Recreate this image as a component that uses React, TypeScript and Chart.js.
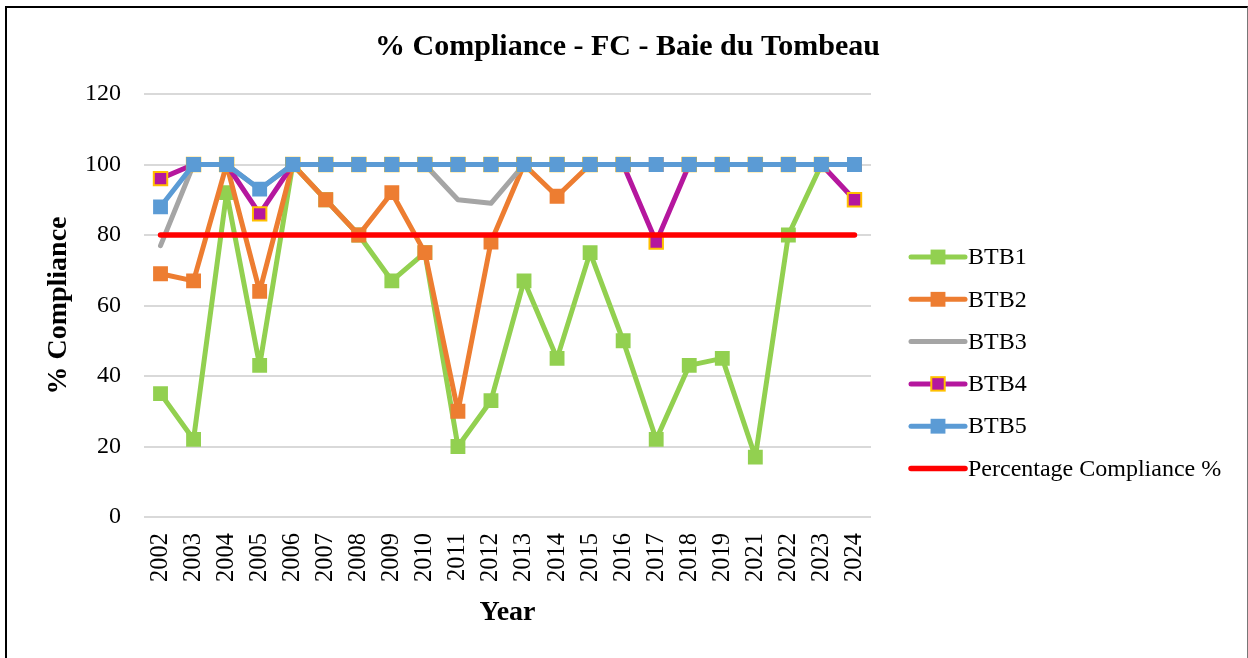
import React, { useEffect, useRef } from "react";
import { Chart, registerables } from "chart.js";

Chart.register(...registerables);

const years = [
  "2002", "2003", "2004", "2005", "2006", "2007", "2008", "2009", "2010", "2011", "2012",
  "2013", "2014", "2015", "2016", "2017", "2018", "2019", "2021", "2022", "2023", "2024",
];

const btb1 = [35, 22, 92, 43, 100, 90, 80, 67, 75, 20, 33, 67, 45, 75, 50, 22, 43, 45, 17, 80, 100, 100];
const btb2 = [69, 67, 100, 64, 100, 90, 80, 92, 75, 30, 78, 100, 91, 100, 100, 100, 100, 100, 100, 100, 100, 100];
const btb3 = [77, 100, 100, 93, 100, 100, 100, 100, 100, 90, 89, 100, 100, 100, 100, 100, 100, 100, 100, 100, 100, 100];
const btb4 = [96, 100, 100, 86, 100, 100, 100, 100, 100, 100, 100, 100, 100, 100, 100, 78, 100, 100, 100, 100, 100, 90];
const btb5 = [88, 100, 100, 93, 100, 100, 100, 100, 100, 100, 100, 100, 100, 100, 100, 100, 100, 100, 100, 100, 100, 100];
const target = [80, 80, 80, 80, 80, 80, 80, 80, 80, 80, 80, 80, 80, 80, 80, 80, 80, 80, 80, 80, 80, 80];

const seriesNames = ["BTB1", "BTB2", "BTB3", "BTB4", "BTB5", "Percentage Compliance %"];
const titleText = "% Compliance - FC - Baie du Tombeau";
const yTitle = "% Compliance";
const xTitle = "Year";

const FONT = "'Liberation Serif', 'Times New Roman', serif";

const legendPlugin = {
  id: "lineLegend",
  afterDraw(chart: any) {
    const ctx = chart.ctx;
    const ds = chart.data.datasets;
    const x0 = 911;
    const x1 = 965;
    const mx = 938;
    const y0 = 257;
    const step = 42.3;
    ctx.save();
    ds.forEach((d: any, i: number) => {
      const y = y0 + i * step;
      ctx.beginPath();
      ctx.lineCap = "round";
      ctx.lineWidth = d.borderWidth;
      ctx.strokeStyle = d.borderColor;
      ctx.moveTo(x0, y);
      ctx.lineTo(x1, y);
      ctx.stroke();
      if (d.pointRadius > 0) {
        const s = d.pointRadius * Math.SQRT1_2;
        ctx.fillStyle = d.pointBackgroundColor;
        ctx.fillRect(mx - s, y - s, 2 * s, 2 * s);
        if (d.pointBorderWidth > 0) {
          ctx.lineWidth = d.pointBorderWidth;
          ctx.strokeStyle = d.pointBorderColor;
          ctx.strokeRect(mx - s, y - s, 2 * s, 2 * s);
        }
      }
      ctx.fillStyle = "#000";
      ctx.font = `24px ${FONT}`;
      ctx.textAlign = "left";
      ctx.textBaseline = "middle";
      ctx.fillText(d.label, 968, y + 1);
    });
    ctx.restore();
  },
};

function App() {
  const ref = useRef<HTMLCanvasElement | null>(null);

  useEffect(() => {
    if (!ref.current) return;
    const mk = (label: string, data: number[], color: string, order: number, extra: any = {}) => ({
      label,
      data,
      borderColor: color,
      backgroundColor: color,
      borderWidth: 5,
      borderJoinStyle: "round",
      borderCapStyle: "round",
      pointStyle: "rect",
      pointRadius: 10.5,
      pointBackgroundColor: color,
      pointBorderColor: color,
      pointBorderWidth: 0,
      tension: 0,
      order,
      ...extra,
    });
    const chart = new Chart(ref.current, {
      type: "line",
      data: {
        labels: years,
        datasets: [
          mk(seriesNames[0], btb1, "#92D050", 5),
          mk(seriesNames[1], btb2, "#ED7D31", 4),
          mk(seriesNames[2], btb3, "#A5A5A5", 3, { pointRadius: 0 }),
          mk(seriesNames[3], btb4, "#B5179E", 2, {
            pointRadius: 9.5,
            pointBorderWidth: 2,
            pointBorderColor: "#FFC000",
          }),
          mk(seriesNames[4], btb5, "#5B9BD5", 1),
          mk(seriesNames[5], target, "#FF0000", 0, { pointRadius: 0, borderWidth: 5.5 }),
        ] as any,
      },
      options: {
        responsive: false,
        animation: false,
        layout: { padding: { left: 7, right: 0, top: 0, bottom: 0 } },
        plugins: {
          legend: { display: false },
          tooltip: { enabled: false },
          title: {
            display: true,
            text: titleText,
            color: "#000",
            font: { family: FONT, size: 30, weight: "bold", lineHeight: 1.2 },
            padding: { top: 29, bottom: 29 },
          },
        },
        scales: {
          x: {
            type: "category",
            offset: true,
            grid: { display: false, drawTicks: false },
            border: { display: false },
            ticks: {
              color: "#000",
              font: { family: FONT, size: 24.5 },
              minRotation: 90,
              maxRotation: 90,
              autoSkip: false,
              padding: 16,
            },
            title: {
              display: true,
              text: xTitle,
              color: "#000",
              font: { family: FONT, size: 28, weight: "bold", lineHeight: 1.2 },
              padding: { top: 0, bottom: 28.5 },
            },
            afterFit: (s: any) => {
              s.height = 141;
            },
          },
          y: {
            type: "linear",
            min: 0,
            max: 120,
            ticks: {
              stepSize: 20,
              color: "#000",
              font: { family: FONT, size: 24 },
              padding: 23,
            },
            grid: { color: "#D9D9D9", lineWidth: 2, drawTicks: false },
            border: { display: false },
            title: {
              display: true,
              text: yTitle,
              color: "#000",
              font: { family: FONT, size: 28, weight: "bold", lineHeight: 1.2 },
              padding: { top: 35, bottom: 0 },
            },
            afterFit: (s: any) => {
              s.width = 137;
            },
          },
          y2: {
            type: "linear",
            position: "right",
            display: true,
            grid: { display: false, drawTicks: false },
            border: { display: false },
            ticks: { display: false },
            afterFit: (s: any) => {
              s.width = 377;
            },
          },
        },
      } as any,
      plugins: [legendPlugin],
    });
    return () => chart.destroy();
  }, []);

  return (
    <div
      style={{
        position: "absolute",
        left: 0,
        top: 0,
        width: 1248,
        height: 658,
        background: "#fff",
        overflow: "hidden",
      }}
    >
      <canvas ref={ref} width={1248} height={658} style={{ position: "absolute", left: 0, top: 0, width: 1248, height: 658 }} />
      <div
        style={{
          position: "absolute",
          left: 5,
          top: 6,
          width: 1240,
          height: 700,
          borderLeft: "2px solid #000",
          borderTop: "2px solid #000",
          borderRight: "1px solid #777",
          pointerEvents: "none",
        }}
      />
    </div>
  );
}

export default App;
